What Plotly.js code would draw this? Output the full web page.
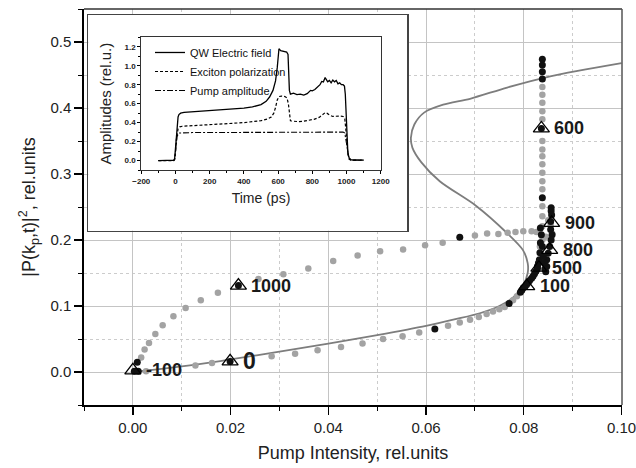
<!DOCTYPE html>
<html>
<head>
<meta charset="utf-8">
<script src="https://cdn.plot.ly/plotly-3.0.1.min.js"></script>
<style>html,body{margin:0;padding:0;background:#fff;}#chart{width:636px;height:468px;}</style>
</head>
<body>
<div id="chart"></div>
<script>
// ---------- main plot data ----------
// S-shaped stationary curve
const curveX = [0.000, 0.005, 0.010, 0.015, 0.020, 0.030, 0.040, 0.050, 0.060, 0.066, 0.071, 0.075, 0.078, 0.0798, 0.0808, 0.0808, 0.0798, 0.0765, 0.0702, 0.0628, 0.0590, 0.0572, 0.0569, 0.0576, 0.0596, 0.0635, 0.0690, 0.0766, 0.0854, 0.1000];
const curveY = [0.000, 0.004, 0.0085, 0.0135, 0.019, 0.031, 0.043, 0.056, 0.070, 0.080, 0.089, 0.100, 0.114, 0.130, 0.150, 0.165, 0.185, 0.211, 0.252, 0.289, 0.318, 0.340, 0.355, 0.375, 0.393, 0.405, 0.414, 0.431, 0.448, 0.468];

// gray trajectory dots
const grayX = [0.0027, 0.0128, 0.0162, 0.0284, 0.0332, 0.0378, 0.0426, 0.047, 0.0512, 0.0552, 0.0586, 0.0645, 0.0669, 0.069, 0.0708, 0.0724, 0.0737, 0.075, 0.0761, 0.0778, 0.0786,
  0.0017, 0.0024, 0.0033, 0.0046, 0.0061, 0.0083, 0.0108, 0.0139, 0.0174, 0.0257, 0.0308, 0.0359, 0.041, 0.046, 0.0506, 0.0553, 0.0598, 0.0634, 0.070, 0.0725, 0.0748, 0.0767, 0.0783, 0.0799, 0.0816, 0.0826,
  0.0833, 0.0838, 0.0845, 0.0838, 0.0838, 0.0838, 0.0838, 0.0838, 0.0838, 0.0838, 0.0838, 0.0838, 0.0838, 0.0838, 0.0838, 0.0838, 0.0838, 0.0838,
  0.0855, 0.0858, 0.0850];
const grayY = [0.001, 0.010, 0.0136, 0.0237, 0.0278, 0.0328, 0.0379, 0.043, 0.050, 0.054, 0.060, 0.070, 0.075, 0.079, 0.0835, 0.088, 0.0915, 0.095, 0.0986, 0.1087, 0.1147,
  0.022, 0.034, 0.044, 0.0576, 0.0707, 0.0844, 0.097, 0.1087, 0.12, 0.141, 0.148, 0.157, 0.168, 0.1765, 0.183, 0.1856, 0.192, 0.1957, 0.207, 0.21, 0.209, 0.211, 0.212, 0.2134, 0.2134, 0.212,
  0.19, 0.20, 0.205, 0.221, 0.236, 0.251, 0.277, 0.289, 0.302, 0.3146, 0.327, 0.337, 0.35, 0.383, 0.395, 0.408, 0.42, 0.432,
  0.222, 0.21, 0.23];

// black dots (every recorded time step)
const blackX = [0.0003, 0.0011, 0.0009, 0.0199, 0.0216, 0.0618, 0.0669, 0.077, 0.0793, 0.0796, 0.0799, 0.0803, 0.0806, 0.0809, 0.0812, 0.0816, 0.0819, 0.0822, 0.0825, 0.0828, 0.0828, 0.083, 0.0832, 0.0833, 0.0834, 0.0836, 0.0834, 0.0838, 0.0836, 0.0838, 0.0838, 0.0838, 0.0838,
  0.0856, 0.0856, 0.0857, 0.0855, 0.0855, 0.0858, 0.0856, 0.0853, 0.085, 0.0847, 0.0842, 0.0847, 0.0843, 0.0845, 0.084, 0.0838];
const blackY = [0.001, 0.001, 0.0146, 0.016, 0.131, 0.065, 0.204, 0.1036, 0.1208, 0.124, 0.1275, 0.130, 0.1325, 0.1355, 0.1385, 0.142, 0.145, 0.149, 0.1527, 0.1565, 0.1602, 0.165, 0.170, 0.1806, 0.1957, 0.208, 0.218, 0.264, 0.369, 0.444, 0.455, 0.465, 0.474,
  0.249, 0.244, 0.238, 0.228, 0.216, 0.208, 0.2, 0.19, 0.18, 0.17, 0.165, 0.16, 0.156, 0.152, 0.175, 0.19];

// time marks (ps) with triangles
const markLabels = ['-100', '0', '1000', '600', '900', '800', '500', '100'];
const markX = [0.0000, 0.0199, 0.0216, 0.0836, 0.0857, 0.0853, 0.0831, 0.0806];
const markY = [0.0024, 0.016, 0.131, 0.369, 0.226, 0.185, 0.158, 0.130];

// ---------- inset data ----------
const tField = [-100, -20, -10, -5, 0, 5, 10, 15, 20, 30, 50, 100, 200, 300, 400, 450, 500, 530, 550, 570, 585, 595, 600, 605, 615, 630, 650, 658, 662, 666, 672, 690, 710, 730, 750, 770, 790, 800, 815, 830, 845, 855, 865, 875, 882, 890, 900, 910, 920, 930, 940, 950, 960, 970, 980, 988, 993, 998, 1003, 1008, 1015, 1025, 1040, 1100];
const field = [0.0, 0.0, 0.005, 0.02, 0.12, 0.28, 0.40, 0.46, 0.485, 0.50, 0.507, 0.513, 0.523, 0.535, 0.553, 0.566, 0.59, 0.625, 0.67, 0.74, 0.84, 0.98, 1.10, 1.18, 1.16, 1.15, 1.145, 1.12, 0.95, 0.74, 0.70, 0.71, 0.695, 0.70, 0.69, 0.705, 0.74, 0.735, 0.75, 0.78, 0.80, 0.835, 0.83, 0.875, 0.855, 0.83, 0.845, 0.82, 0.85, 0.83, 0.845, 0.81, 0.82, 0.80, 0.80, 0.785, 0.70, 0.45, 0.20, 0.08, 0.03, 0.01, 0.005, 0.005];

const tPol = [-100, -10, -5, 0, 5, 10, 15, 25, 40, 100, 200, 300, 400, 500, 540, 560, 575, 585, 595, 605, 620, 640, 652, 660, 666, 672, 690, 720, 750, 780, 810, 840, 860, 875, 885, 900, 920, 940, 960, 980, 990, 996, 1002, 1008, 1015, 1025, 1100];
const pol = [0, 0, 0.01, 0.08, 0.22, 0.30, 0.335, 0.355, 0.362, 0.368, 0.378, 0.388, 0.40, 0.42, 0.44, 0.46, 0.50, 0.56, 0.64, 0.675, 0.68, 0.675, 0.66, 0.60, 0.47, 0.42, 0.415, 0.41, 0.415, 0.425, 0.435, 0.455, 0.48, 0.505, 0.50, 0.48, 0.465, 0.47, 0.47, 0.465, 0.44, 0.33, 0.18, 0.07, 0.02, 0.005, 0.005];

const tPump = [-100, -10, -5, 0, 5, 10, 20, 100, 300, 500, 700, 900, 980, 990, 996, 1002, 1008, 1015, 1025, 1100];
const pump = [0, 0, 0.01, 0.08, 0.2, 0.26, 0.29, 0.295, 0.296, 0.297, 0.298, 0.30, 0.30, 0.29, 0.22, 0.12, 0.05, 0.015, 0.005, 0.005];

const seriesNames = ['QW Electric field', 'Exciton polarization', 'Pump amplitude'];

// ---------- traces ----------
const FONT = 'Liberation Sans, Arial, Helvetica, sans-serif';
const traces = [
  {x: curveX, y: curveY, mode: 'lines', line: {color: '#7d7d7d', width: 1.8, shape: 'spline', smoothing: 0.8}, showlegend: false, hoverinfo: 'skip'},
  {x: grayX, y: grayY, mode: 'markers', marker: {color: '#a3a3a3', size: 6.5}, showlegend: false},
  {x: blackX, y: blackY, mode: 'markers', marker: {color: '#111', size: 7}, showlegend: false},
  {x: markX, y: markY, mode: 'markers', marker: {symbol: 'triangle-up-open', size: 14, color: '#000', line: {width: 1.3}}, showlegend: false},
  {x: [null], y: [null], xaxis: 'x2', yaxis: 'y2', mode: 'markers', showlegend: false, hoverinfo: 'skip'},
  {x: tField, y: field, xaxis: 'x3', yaxis: 'y3', mode: 'lines', name: seriesNames[0], line: {color: '#000', width: 1.3}},
  {x: tPol, y: pol, xaxis: 'x3', yaxis: 'y3', mode: 'lines', name: seriesNames[1], line: {color: '#000', width: 1.2, dash: '3px,2px'}},
  {x: tPump, y: pump, xaxis: 'x3', yaxis: 'y3', mode: 'lines', name: seriesNames[2], line: {color: '#000', width: 1.1, dash: '6px,2px,2px,2px'}}
];

const annotations = markLabels.map((t, i) => ({
  x: markX[i], y: markY[i], xref: 'x', yref: 'y', text: t, showarrow: false,
  xanchor: 'left', yanchor: 'middle', xshift: 11,
  font: {family: FONT, size: t === '0' ? 23 : 18, weight: 'bold', color: '#1a1a1a'}
}));

const layout = {
  width: 636, height: 468,
  margin: {l: 84, r: 14, t: 9, b: 63},
  paper_bgcolor: '#fff', plot_bgcolor: '#fff',
  font: {family: FONT, color: '#1a1a1a'},
  showlegend: true,
  legend: {x: 0.1227, y: 0.9268, xanchor: 'left', yanchor: 'top', bgcolor: 'rgba(0,0,0,0)', font: {size: 11, family: FONT, color: '#111'}, itemwidth: 30, tracegroupgap: 0},
  xaxis: {
    domain: [0, 1], range: [-0.01, 0.1001], dtick: 0.02, tick0: 0, tickformat: '.2f',
    ticks: 'outside', ticklen: 8, tickwidth: 1.3, tickcolor: '#000', ticklabeloverflow: 'allow',
    showline: true, linecolor: '#000', linewidth: 1.6,
    showgrid: true, gridcolor: '#c4c4c4', gridwidth: 1, zeroline: false,
    minor: {dtick: 0.01, tick0: 0, ticks: 'outside', ticklen: 4, tickwidth: 1, tickcolor: '#000', showgrid: true, gridcolor: '#cccccc', griddash: 'dot', gridwidth: 1},
    tickfont: {size: 15, color: '#222'},
    title: {text: 'Pump Intensity, rel.units', font: {size: 18, color: '#222'}, standoff: 12}
  },
  yaxis: {
    domain: [0, 1], range: [-0.05, 0.55], dtick: 0.1, tick0: 0, tickformat: '.1f',
    ticks: 'outside', ticklen: 8, tickwidth: 1.3, tickcolor: '#000',
    showline: true, linecolor: '#000', linewidth: 1.6,
    showgrid: true, gridcolor: '#c4c4c4', gridwidth: 1, zeroline: false,
    minor: {dtick: 0.05, tick0: 0, ticks: 'outside', ticklen: 4, tickwidth: 1, tickcolor: '#000', showgrid: true, gridcolor: '#cccccc', griddash: 'dot', gridwidth: 1},
    tickfont: {size: 15, color: '#222'},
    title: {text: '|P(k<sub>p</sub>,t)|<sup>2</sup>, rel.units', font: {size: 18, color: '#222'}, standoff: 10}
  },
  xaxis2: {domain: [0.008, 0.601], anchor: 'y2', range: [0, 1], showline: true, mirror: true, linecolor: '#444', linewidth: 1.2, showgrid: false, zeroline: false, showticklabels: false, ticks: '', fixedrange: true},
  yaxis2: {domain: [0.4402, 0.9848], anchor: 'x2', range: [0, 1], showline: true, mirror: true, linecolor: '#444', linewidth: 1.2, showgrid: false, zeroline: false, showticklabels: false, ticks: '', fixedrange: true},
  xaxis3: {
    domain: [0.1065, 0.5515], anchor: 'y3', range: [-200, 1200], dtick: 200, tick0: 0,
    ticks: 'outside', ticklen: 3, tickwidth: 1, tickcolor: '#000',
    minor: {dtick: 100, ticks: 'outside', ticklen: 2, tickcolor: '#000'},
    showline: true, mirror: true, linecolor: '#333', linewidth: 1, showgrid: false, zeroline: false,
    tickfont: {size: 8, weight: 'bold', color: '#222'},
    title: {text: 'Time (ps)', font: {size: 14, color: '#222'}, standoff: 8}
  },
  yaxis3: {
    domain: [0.5934, 0.9285], anchor: 'x3', range: [-0.1, 1.3], dtick: 0.2, tick0: 0, tickformat: '.1f',
    ticks: 'outside', ticklen: 3, tickwidth: 1, tickcolor: '#000',
    minor: {dtick: 0.1, ticks: 'outside', ticklen: 2, tickcolor: '#000'},
    showline: true, mirror: true, linecolor: '#333', linewidth: 1, showgrid: false, zeroline: false,
    tickfont: {size: 8, weight: 'bold', color: '#222'},
    title: {text: 'Amplitudes (rel.u.)', font: {size: 15, color: '#222'}, standoff: 9}
  },
  shapes: [
    {type: 'line', xref: 'paper', yref: 'paper', x0: 0, x1: 1, y0: 1, y1: 1, line: {color: '#333', width: 1.5}},
    {type: 'line', xref: 'paper', yref: 'paper', x0: 1, x1: 1, y0: 0, y1: 1, line: {color: '#555', width: 1.5}}
  ],
  annotations: annotations
};

Plotly.newPlot('chart', traces, layout, {staticPlot: true, displayModeBar: false});
</script>
</body>
</html>
